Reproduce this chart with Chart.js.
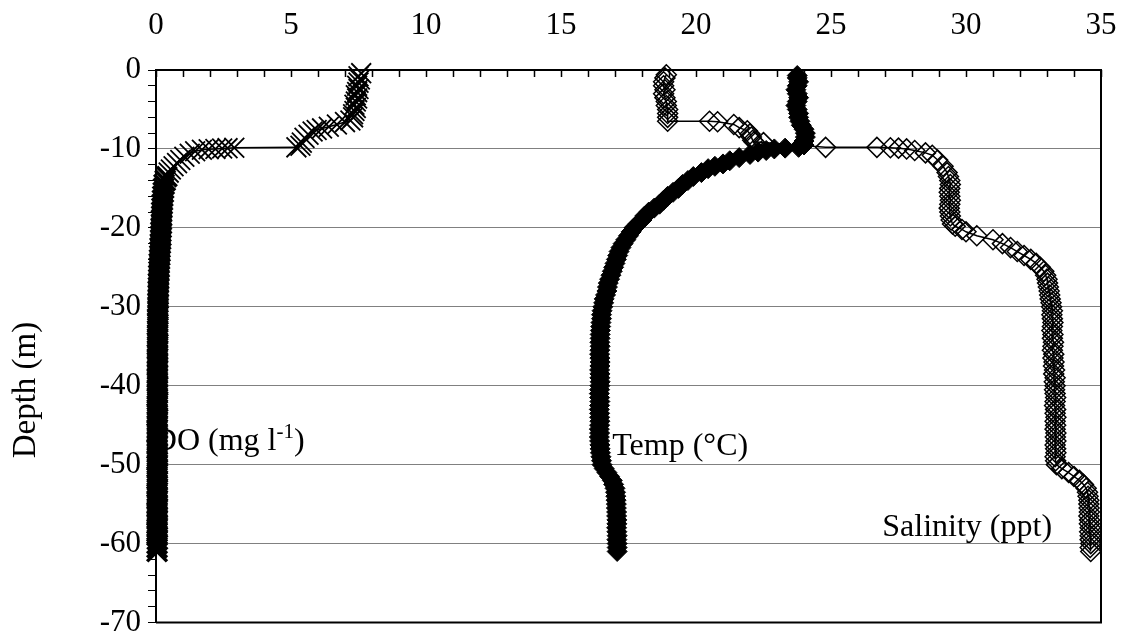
<!DOCTYPE html>
<html>
<head>
<meta charset="utf-8">
<script src="https://cdn.jsdelivr.net/npm/chart.js@4.4.1/dist/chart.umd.min.js"></script>
<style>
  html,body{margin:0;padding:0;background:#fff;}
  #wrap{width:1122px;height:640px;}
</style>
</head>
<body>
<div id="wrap"><canvas id="profileChart" width="1122" height="640"></canvas></div>
<script>
// ---- data (depth in m, negative downwards) ----
// upper part of each cast, irregular depths around the thermocline
const doTopDepth = [-0.4,-0.8,-1.2,-1.6,-2,-2.4,-2.8,-3.2,-3.6,-4,-4.4,-4.8,-5.2,-5.6,-6,-6.4,
  -6.6,-6.9,-7.2,-7.4,-7.6,-7.8,-8.2,-8.6,-9.2,-9.6,-9.8,
  -9.85,-9.9,-9.95,-10,-10.05,-10.1,-10.3,-10.6,-11,-11.4,-11.8,-12.2,-12.6,-13,
  -13.5,-14,-14.5,-15,-15.5,-16,-16.5,-17,-17.5,-18,-18.5,-19,-19.5,-20];
const doTopValue = [7.6,7.5,7.55,7.5,7.45,7.5,7.45,7.4,7.45,7.4,7.35,7.4,7.35,7.3,7.3,7.2,
  7.0,6.7,6.4,6.15,5.95,5.8,5.65,5.5,5.4,5.35,5.2,
  2.9,2.65,2.45,2.2,1.95,1.7,1.45,1.25,1.05,0.9,0.78,0.65,0.55,0.47,
  0.4,0.34,0.3,0.28,0.27,0.25,0.24,0.23,0.22,0.21,0.21,0.2,0.2,0.19];

const tempTopDepth = [-0.7,-1,-1.5,-2,-2.5,-3,-3.5,-4,-4.5,-5,-5.5,-6,-6.5,
  -7,-7.5,-8,-8.5,-9,-9.5,-9.8,
  -9.9,-10,-10.2,-10.4,-10.7,-11.1,-11.5,-11.9,-12.2,-12.5,
  -13,-13.5,-14,-14.5,-15,-15.5,-16,-16.5,-17,-17.5,
  -18,-18.5,-19,-19.5,-20];
const tempTopValue = [23.75,23.75,23.8,23.75,23.7,23.75,23.8,23.75,23.7,23.75,23.8,23.8,23.85,
  23.9,24.0,24.05,24.05,24.0,24.0,23.8,
  23.3,22.9,22.6,22.3,22.0,21.6,21.25,21.0,20.7,20.45,
  20.2,19.9,19.7,19.5,19.35,19.15,18.95,18.8,18.65,18.45,
  18.25,18.1,18.0,17.85,17.7];

const salTopDepth = [-0.6,-1,-1.5,-2,-2.5,-3,-3.5,-4,-4.5,-5,-5.5,-6,-6.5,
  -6.5,-6.55,-6.9,-7.3,-7.7,-8.1,-8.5,-8.9,-9.1,-9.2,
  -9.8,-9.8,-9.85,-9.9,-10,-10.2,-10.5,-10.8,-11.4,-12.2,
  -13,-13.5,-14,-14.5,-15,-15.5,-16,-16.5,-17,-17.5,
  -18,-18.5,-19,-19.5,-19.8,-20.2];
const salTopValue = [18.9,18.85,18.8,18.8,18.85,18.8,18.85,18.9,18.9,18.95,18.95,18.95,18.95,
  20.5,20.8,21.4,21.6,21.9,22.0,22.05,22.1,22.15,22.5,
  24.8,26.7,27.2,27.5,27.8,28.1,28.5,28.75,28.95,29.15,
  29.3,29.35,29.4,29.42,29.4,29.38,29.4,29.42,29.4,29.38,
  29.4,29.42,29.45,29.5,29.6,29.85];

// deeper part, every 0.5 m
const gridDepth = [
  -20.5,-21,-21.5,-22,-22.5,-23,-23.5,-24,-24.5,-25,
  -25.5,-26,-26.5,-27,-27.5,-28,-28.5,-29,-29.5,-30,
  -30.5,-31,-31.5,-32,-32.5,-33,-33.5,-34,-34.5,-35,
  -35.5,-36,-36.5,-37,-37.5,-38,-38.5,-39,-39.5,-40,
  -40.5,-41,-41.5,-42,-42.5,-43,-43.5,-44,-44.5,-45,
  -45.5,-46,-46.5,-47,-47.5,-48,-48.5,-49,-49.5,-50,
  -50.5,-51,-51.5,-52,-52.5,-53,-53.5,-54,-54.5,-55,
  -55.5,-56,-56.5,-57,-57.5,-58,-58.5,-59,-59.5,-60,
  -60.5,-61];
const doDeep = [
  0.18,0.18,0.17,0.16,0.15,0.15,0.14,0.13,0.12,0.12,
  0.11,0.1,0.1,0.09,0.09,0.08,0.08,0.08,0.07,0.07,
  0.07,0.07,0.06,0.06,0.07,0.06,0.06,0.06,0.05,0.06,
  0.06,0.05,0.06,0.05,0.05,0.06,0.05,0.05,0.05,0.06,
  0.05,0.05,0.05,0.06,0.05,0.05,0.04,0.05,0.05,0.05,
  0.05,0.04,0.05,0.05,0.05,0.04,0.05,0.05,0.04,0.05,
  0.05,0.05,0.04,0.05,0.04,0.05,0.05,0.04,0.05,0.04,
  0.05,0.04,0.04,0.05,0.04,0.05,0.04,0.04,0.05,0.04,
  0.04,0.04];
const tempDeep = [
  17.6,17.5,17.4,17.3,17.22,17.15,17.1,17.05,17.0,16.95,
  16.9,16.85,16.8,16.75,16.72,16.7,16.65,16.6,16.58,16.55,
  16.52,16.5,16.5,16.48,16.47,16.46,16.45,16.45,16.44,16.45,
  16.44,16.43,16.44,16.45,16.44,16.43,16.44,16.44,16.45,16.44,
  16.43,16.42,16.43,16.44,16.43,16.42,16.43,16.43,16.44,16.43,
  16.42,16.43,16.42,16.43,16.44,16.45,16.46,16.48,16.5,16.52,
  16.6,16.7,16.8,16.9,16.95,17.0,17.02,17.03,17.04,17.05,
  17.05,17.06,17.06,17.07,17.07,17.06,17.07,17.08,17.07,17.08,
  17.08,17.08];
const salDeep = [
  30.0,30.4,31.0,31.35,31.65,31.9,32.15,32.4,32.6,32.75,
  32.88,32.95,33.0,33.02,33.05,33.08,33.1,33.12,33.15,33.17,
  33.2,33.18,33.2,33.22,33.2,33.18,33.22,33.2,33.24,33.22,
  33.2,33.25,33.22,33.26,33.24,33.28,33.25,33.3,33.27,33.3,
  33.28,33.3,33.32,33.3,33.28,33.32,33.3,33.33,33.3,33.32,
  33.3,33.33,33.31,33.33,33.3,33.32,33.33,33.3,33.32,33.35,
  33.55,33.8,34.0,34.2,34.35,34.45,34.5,34.52,34.55,34.55,
  34.56,34.57,34.55,34.58,34.57,34.6,34.58,34.6,34.6,34.62,
  34.6,34.62];

// axis ticks
const xTicks = [0,5,10,15,20,25,30,35];
const yTicks = [0,-10,-20,-30,-40,-50,-60,-70];

const FONT = '"Liberation Serif", "Times New Roman", serif';

function toPoints(topD, topV, deepV){
  const pts = topD.map((d,i)=>({x:topV[i], y:d}));
  return pts.concat(gridDepth.map((d,i)=>({x:deepV[i], y:d})));
}

// frame, inward top ticks, text labels drawn under the data
const decorPlugin = {
  id:'decor',
  beforeDatasetsDraw(chart){
    const {ctx, chartArea:a, scales:{x,y}} = chart;
    ctx.save();
    ctx.strokeStyle = '#000'; ctx.lineWidth = 1.5;
    ctx.beginPath();
    x.ticks.forEach(t=>{
      const px = Math.round(x.getPixelForValue(t.value)) + 0.5;
      ctx.moveTo(px, a.top); ctx.lineTo(px, a.top + 7);
    });
    ctx.stroke();
    ctx.lineWidth = 2;
    ctx.beginPath();
    ctx.moveTo(a.right, a.top); ctx.lineTo(a.right, a.bottom); ctx.lineTo(a.left, a.bottom);
    ctx.stroke();

    ctx.fillStyle = '#000';
    ctx.textBaseline = 'alphabetic';
    ctx.font = '32px ' + FONT;
    // DO label with superscript
    let lx = x.getPixelForValue(-0.08), ly = y.getPixelForValue(-48.1);
    const s1 = 'DO (mg l';
    ctx.fillText(s1, lx, ly);
    lx += ctx.measureText(s1).width;
    ctx.font = '21px ' + FONT;
    ctx.fillText('-1', lx, ly - 12);
    lx += ctx.measureText('-1').width;
    ctx.font = '32px ' + FONT;
    ctx.fillText(')', lx, ly);
    ctx.fillText('Temp (\u00B0C)', x.getPixelForValue(16.9), y.getPixelForValue(-48.8));
    ctx.fillText('Salinity (ppt)', x.getPixelForValue(26.9), y.getPixelForValue(-59.0));

    // axis title
    ctx.font = '33px ' + FONT;
    ctx.translate(35, 390);
    ctx.rotate(-Math.PI/2);
    ctx.textAlign = 'center';
    ctx.fillText('Depth (m)', 0, 0);
    ctx.restore();
  }
};

const el = document.getElementById('profileChart');
new Chart(el.getContext('2d'), {
  type:'scatter',
  data:{datasets:[
    {label:'DO (mg l-1)', data:toPoints(doTopDepth, doTopValue, doDeep),
     showLine:true, borderColor:'#000', borderWidth:1.5,
     pointStyle:'crossRot', pointRadius:14, pointBorderColor:'#000',
     pointBorderWidth:c=> (c.raw && c.raw.y < -13) ? 3.5 : 1.8,
     pointBackgroundColor:'#000', clip:false},
    {label:'Temp (\u00B0C)', data:toPoints(tempTopDepth, tempTopValue, tempDeep),
     showLine:true, borderColor:'#000', borderWidth:1.5,
     pointStyle:'rectRot', pointRadius:10, pointBorderColor:'#000', pointBorderWidth:1,
     pointBackgroundColor:'#000', clip:false},
    {label:'Salinity (ppt)', data:toPoints(salTopDepth, salTopValue, salDeep),
     showLine:true, borderColor:'#000', borderWidth:1.5,
     pointStyle:'rectRot', pointRadius:10, pointBorderColor:'#000', pointBorderWidth:1.5,
     pointBackgroundColor:'rgba(0,0,0,0)', clip:false},
  ]},
  options:{
    responsive:false, animation:false, devicePixelRatio:1,
    layout:{padding:{left:0, right:21, top:0, bottom:16}},
    plugins:{legend:{display:false}, tooltip:{enabled:false}},
    elements:{point:{hoverRadius:10}},
    scales:{
      x:{type:'linear', position:'top', min:0, max:35,
        afterFit:s=>{ s.height = 70; s.paddingLeft = 0; s.paddingRight = 0; },
        ticks:{stepSize:1, autoSkip:false, maxRotation:0, color:'#000', padding:26,
          font:{family:FONT, size:31},
          callback:v=> xTicks.includes(v) ? String(v) : ''},
        grid:{drawOnChartArea:false, drawTicks:false},
        border:{display:true, color:'#000', width:2}},
      y:{type:'linear', min:-70, max:0,
        afterFit:s=>{ s.width = 156; s.paddingTop = 0; s.paddingBottom = 0; },
        ticks:{stepSize:2, autoSkip:false, color:'#000', padding:7,
          font:{family:FONT, size:31},
          callback:v=> yTicks.includes(v) ? String(v) : ''},
        grid:{color:c=> (yTicks.includes(c.tick.value) && c.tick.value !== 0 && c.tick.value !== -70) ? '#808080' : 'rgba(0,0,0,0)',
          tickColor:'#000', tickLength:8, lineWidth:1},
        border:{display:true, color:'#000', width:2}}
    }
  },
  plugins:[decorPlugin]
});
</script>
</body>
</html>
